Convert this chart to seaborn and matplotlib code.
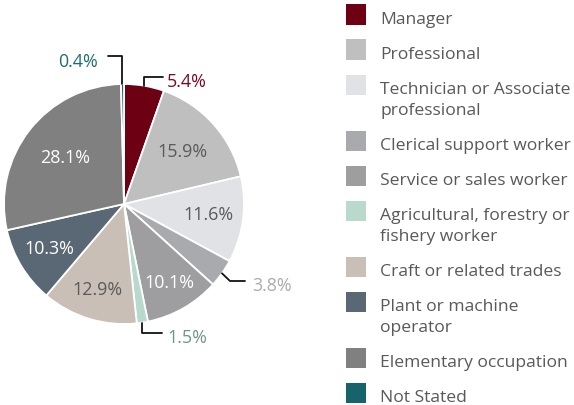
import matplotlib
matplotlib.use("Agg")
import matplotlib.pyplot as plt
import seaborn as sns
import numpy as np
from matplotlib.patches import Rectangle

categories = ["Manager", "Professional", "Technician or Associate\nprofessional",
              "Clerical support worker", "Service or sales worker",
              "Agricultural, forestry or\nfishery worker", "Craft or related trades",
              "Plant or machine\noperator", "Elementary occupation", "Not Stated"]
values = [5.4, 15.9, 11.6, 3.8, 10.1, 1.5, 12.9, 10.3, 28.1, 0.4]
colors = ["#6e0014", "#bfbfbf", "#e1e2e6", "#a9aaae", "#9e9ea0",
          "#b9d9cd", "#c9bfb6", "#5a6875", "#808080", "#17636b"]

sns.set_theme(style="white")
plt.rcParams['font.family'] = ['Open Sans', 'DejaVu Sans']

W, H = 574, 405
CX, CY, R = 124, 204, 120
FS = 12.9
LFS = 12.6
fig = plt.figure(figsize=(W / 100, H / 100), dpi=100)
ax = fig.add_axes([0, 0, 1, 1])

def d(px, py):
    return (px - CX) / R, (CY - py) / R

palette = sns.color_palette(colors)
wedges, _ = ax.pie(values, colors=palette, startangle=90, counterclock=False,
                   radius=1, wedgeprops=dict(edgecolor="white", linewidth=1.3))
ax.set_xlim(-CX / R, (W - CX) / R)
ax.set_ylim(-(H - CY) / R, CY / R)
ax.set_aspect("auto")
ax.axis("off")

# inside labels
label_r = [None, 0.65, 0.71, None, 0.76, None, 0.75, 0.73, 0.62, None]
inside_colors = [None, "#5a5a5a", "#5a5a5a", None, "#ffffff", None, "#5a5a5a", "#ffffff", "#ffffff", None]
for w, v, r, c in zip(wedges, values, label_r, inside_colors):
    if r is None:
        continue
    ang = np.deg2rad((w.theta1 + w.theta2) / 2)
    ax.text(r * np.cos(ang), r * np.sin(ang), f"{v}%", ha="center", va="center",
            fontsize=FS, color=c)

# outside labels with elbow leader lines
def mid(i):
    w = wedges[i]
    a = np.deg2rad((w.theta1 + w.theta2) / 2)
    return np.cos(a), np.sin(a)

lc = "#111111"
# Manager 5.4%
x0, y0 = mid(0)
ax.plot([x0, x0, d(163, 0)[0]], [y0, d(0, 77)[1], d(0, 77)[1]], color=lc, lw=1.3)
ax.text(d(167, 0)[0], d(0, 82)[1], f"{values[0]}%", ha="left", va="center", fontsize=FS, color="#7a0a1e")
# Not stated 0.4%
x0, y0 = mid(9)
ax.plot([x0, x0, d(108, 0)[0]], [y0, d(0, 56)[1], d(0, 56)[1]], color=lc, lw=1.3)
ax.text(d(98, 0)[0], d(0, 62)[1], f"{values[9]}%", ha="right", va="center", fontsize=FS, color="#1f6b73")
# Clerical 3.8%
x0, y0 = mid(3)
ax.plot([x0, d(230, 0)[0], d(245, 0)[0]], [y0, d(0, 281)[1], d(0, 281)[1]], color=lc, lw=1.3)
ax.text(d(252, 0)[0], d(0, 286)[1], f"{values[3]}%", ha="left", va="center", fontsize=FS, color="#ababab")
# Agricultural 1.5%
x0, y0 = mid(5)
ax.plot([x0, x0, d(162, 0)[0]], [y0, d(0, 333)[1], d(0, 333)[1]], color=lc, lw=1.3)
ax.text(d(167, 0)[0], d(0, 338)[1], f"{values[5]}%", ha="left", va="center", fontsize=FS, color="#6f958a")

# legend drawn manually
top = 4.5
for cat, col in zip(categories, palette):
    x1, y1 = d(346, top + 20)
    ax.add_patch(Rectangle((x1, y1), 20 / R, 20 / R, facecolor=col, edgecolor="none"))
    lines = cat.split("\n")
    for k, line in enumerate(lines):
        tx, ty = d(380, top + 19.5 + 21 * k)
        ax.text(tx, ty, line, ha="left", va="baseline", fontsize=LFS, color="#595959")
    top += 35 + 21 * (len(lines) - 1)

fig.savefig("out.png", dpi=100)
